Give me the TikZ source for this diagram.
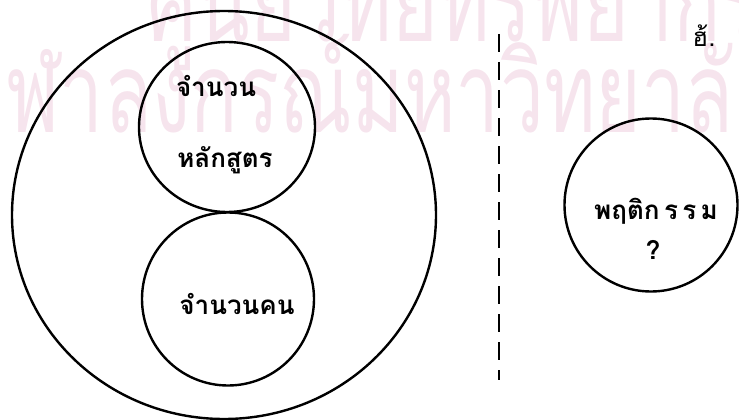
\documentclass[tikz,border=0pt]{standalone}
\usepackage{fontspec}
\newfontfamily\thaifont[Script=Thai]{Loma}
\usetikzlibrary{shapes.geometric}
\definecolor{wmark}{RGB}{246,228,237}
\tikzset{
  ring/.style={draw=black, line width=2.4pt, ellipse, inner sep=0pt},
  label/.style={font=\thaifont\bfseries\fontsize{26}{26}\selectfont, inner sep=0pt, text=black},
  wm/.style={font=\thaifont\fontsize{112}{112}\selectfont, inner sep=0pt, text=wmark, anchor=base},
  divider/.style={draw=black, line width=2.6pt, dash pattern=on 18pt off 10pt}
}
\begin{document}
\begin{tikzpicture}[x=1pt,y=-1pt]
\useasboundingbox (0,0) rectangle (739,420);
% watermark
\node[wm] (wm1) at (455,42) {\scalebox{0.7}[1]{ศูนย์วิทยทรัพยากร}};
\node[wm] (wm2) at (370,132) {\scalebox{0.7}[1]{จุฬาลงกรณ์มหาวิทยาลัย}};
% circles
\node[ring, minimum width=424pt, minimum height=408pt] (outer) at (224,215) {};
\node[ring, minimum width=176pt, minimum height=170pt] (course) at (227,127) {};
\node[ring, minimum width=172pt, minimum height=173pt] (people) at (228,299) {};
\node[ring, minimum width=173pt, minimum height=173pt] (behav) at (651,205) {};
% texts
\node[label] (t1) at (216,86) {จำนวน};
\node[label] (t2) at (225,160) {หลักสูตร};
\node[label] (t3) at (237,304) {จำนวนคน};
\node[label] (t4) at (656,211) {พฤติก\,ร\,ร\,ม};
\node[label] (t5) at (653,250) {?};
\node[label, font=\thaifont\fontsize{26}{26}\selectfont] (mark) at (704,36) {ฮ้.};
% divider
\coordinate (dtop) at (499,34);
\coordinate (dbot) at (499,380);
\draw[divider] (dtop) -- (dbot);
\end{tikzpicture}
\end{document}
